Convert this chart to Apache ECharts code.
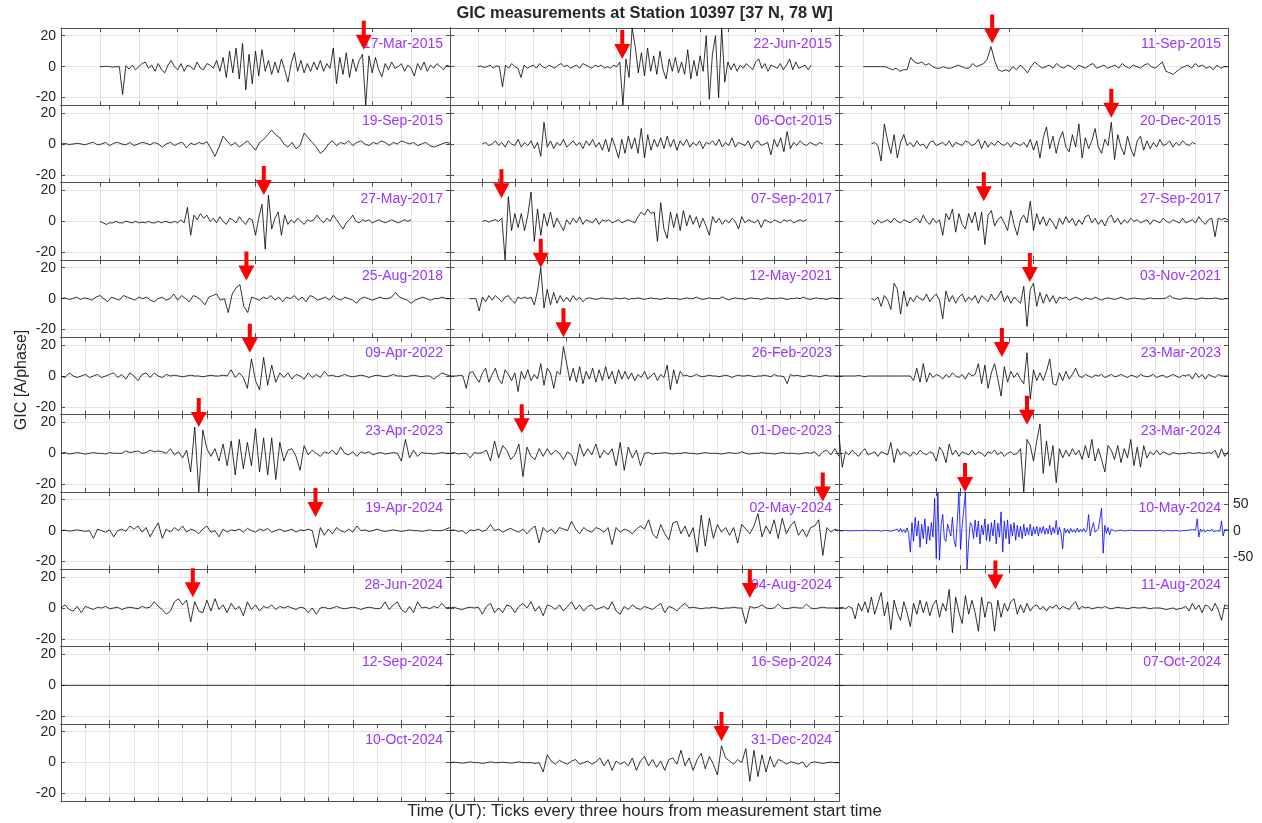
<!DOCTYPE html>
<html><head><meta charset="utf-8">
<script src="https://cdn.jsdelivr.net/npm/echarts@6/dist/echarts.min.js"></script>
<style>html,body{margin:0;padding:0;background:#fff}#chart{width:1262px;height:823px}</style>
</head><body><div id="chart"></div><script>
// ---------------- DATA ----------------
const figureTitle = 'GIC measurements at Station 10397 [37 N, 78 W]';
const yAxisTitle = 'GIC [A/phase]';
const xAxisTitle = 'Time (UT): Ticks every three hours from measurement start time';
const yTickValues = [-20, 0, 20];
const yTickValuesWide = [-50, 0, 50];
const tickStepHours = 3;

const panelDates = ['17-Mar-2015','22-Jun-2015','11-Sep-2015','19-Sep-2015','06-Oct-2015','20-Dec-2015','27-May-2017','07-Sep-2017','27-Sep-2017','25-Aug-2018','12-May-2021','03-Nov-2021','09-Apr-2022','26-Feb-2023','23-Mar-2023','23-Apr-2023','01-Dec-2023','23-Mar-2024','19-Apr-2024','02-May-2024','10-May-2024','28-Jun-2024','04-Aug-2024','11-Aug-2024','12-Sep-2024','16-Sep-2024','07-Oct-2024','10-Oct-2024','31-Dec-2024'];
const axisStartHours = [-3,-3,-1,0,-6,-3,-3,-3,-3,-3,-3,-3,0,-3,0,0,0,0,0,0,0,0,0,0,0,0,0,0,0];
const axisEndHours   = [27,39,15,24,66,33,27,33,33,27,33,33,48,57,48,48,48,48,24,48,48,24,48,48,24,48,48,48,48];
const yLimits        = [25,25,25,25,25,25,25,25,25,25,25,25,25,25,25,25,25,25,25,25,72,25,25,25,25,25,25,25,25];
const sampleStartHours = [0,0,0,0,0,0,0,0,0,-3,-1.2,0,0,-3,0,0,0,0,0,0,0,0,0,0,0,0,0,0,0];
const sampleStepHours  = [0.25,1/3,0.15,0.25,0.6,0.3,0.25,0.3,0.3,0.3,0.3,0.3,0.5,0.5,0.4,0.5,0.5,0.4,0.25,0.5,0.2,0.25,0.5,0.4,6,12,12,12,0.5];
const arrowHours     = [20.35,15.6,5.3,null,null,22.2,12.64,1.76,10.4,11.3,5.4,14.66,23.3,14.5,20.1,17,8.85,23.2,15.7,46,15.55,8.13,37,19.3,null,null,null,null,33.5];
const arrowTipValues = [11,5,15,null,null,17,17,15,13,11.7,20,10.8,15,25,12.3,17,13,18.4,8.8,18.8,72,7,6.5,12,null,null,null,null,14];

const gic_17Mar2015 = [0,0,0.3,0,-0.3,0,0,-18,0.5,-1.5,1,-2,0,2,3,-1,1,-3,2,-2,-4,1,4,0,-2,2,-3,1,0,-2,3,-1,-2,2,1,-1,4,-3,6,-7,10,-4,12,-8,15,-15,8,-11,10,-6,11,-3,4,-5,3,-4,5,-2,-10,2,9,-3,4,-4,2,-3,3,-2,4,-3,2,-1,12,-11,6,-5,9,-7,5,-3,4,8,-25,7,-4,6,-2,-6.5,2,-2,3,-1,0,2,-3,1,-1,-6,2,-2,3,-3,1,-1,2,0,-2,1,0];
const gic_22Jun2015 = [0,0.5,-0.5,0,1,-1,0.5,0,-13,1,-1,2,0,-1,-7,1,-1,0,1,-1,2,0,-1,1,0,-1,1,2,0,1,-1,0,1,-1,2,1,0,-1,1,0,1,-1,0,-1,1,0,3,-25,5,-7,25,13,-4,9,-6,12,-3,7,-5,10,-2,-8,5,-3,6,-4,3,-5,11,-8,4,-6,7,-3,20,-21,8,20,-20,25,-10,3,-2,2,-3,1,-1,2,0,-2,3,5,-1,2,-3,1,0,-1,2,-2,1,5,-2,3,-1,0,1,-2,1];
const gic_11Sep2015 = [0,0,0,0,0,0,0,-1,-2,-1,-3,-2,-2,6,3,2,3,1,2,0,-1,-1,0,-1,-1,0,1,0,-1,-1,2,0,1,2,5,13,4,-2,-3,-2,-3,0,-2,1,-1,-4,0,3,1,-1,0,1,-1,2,0,-1,1,0,-2,1,0,-1,1,2,-1,0,1,-1,0,1,-1,2,0,-1,1,0,-1,1,2,0,-1,1,3,-3,-4,-5,-3,-1,0,1,-1,2,0,1,-1,0,-2,1,-1,0,0];
const gic_19Sep2015 = [0,0.3,-0.3,0,0.5,0,-0.5,0.5,1,-0.5,0,1,-1,0.5,1,0,-0.5,1,-1,0,1,0.5,-0.5,1,0,-2,0,1,-1,0.5,1,-2.5,0.5,-0.5,1,0,1.5,-3,-8,-2,5,2,-1,1,-2,0,2,-1,-4,1,3,6,9,6,4,0,-2,1,-3,-1,7,4,1,-2,-6,-4,0,2,-1,1,0,2,-1,1,2,0,-1,1,0,2,1,-1,1,0,2,1,0,1,-1,0,1,-1,-2,-1,0,1,0.5];
const gic_06Oct2015 = [0,1,-1,0,2,-1,1,-2,2,0,-1,3,-2,1,-1,2,-3,1,-8,14,-2,2,-3,1,-1,3,-2,0,2,-1,1,-3,2,-1,3,-2,1,-4,3,-5,4,-2,-9,3,-6,5,-3,4,-6,10,-9,6,-4,3,-2,4,-3,5,-2,3,-4,2,-1,3,-2,1,-1,2,-3,1,0,2,-1,3,-2,1,-1,4,-2,1,0,-1,2,-3,1,2,-1,0,1,-7,3,-2,4,-5,8,-3,1,-1,2,0,-1,1,0,-1,1,0];
const gic_20Dec2015 = [0,1,-1,-11,13,2,-6,6,-9,1,6,-1,1,-2,2,-1,0,-3,1,2,-1,0,1,-1,2,-2,1,0,-1,2,1,-1,0,3,-3,2,-2,1,-1,2,0,-1,1,-2,1,0,-1,1,-2,3,-4,2,-9,4,11,-3,5,-6,3,8,-2,-5,6,-2,13,-9,4,-3,2,10,-2,-6,3,-1,14,-10,6,-2,-7,5,-3,-8,2,5,-4,2,-3,1,-2,3,-1,0,2,-2,1,-1,2,0,-1,1,0];
const gic_27May2017 = [0,-1,-2,-1,-1,0,-1,-1,0,-0.5,-1,0,-1,-0.5,-1,0,-1,-1,0,-1,0,-0.5,-1,0,-1,1,-1,9,-9,4,1,5,2,4,0,2,-1,3,0,-2,2,1,-1,3,0,-2,2,1,-9,2,11,-18,17,-5,2,6,-9,4,-2,1,-1,2,0,-2,1,0,1,4,1,-1,2,0,4,1,-2,-5,-1,1,4,0,-1,1,0,1,-1,0,1,0,-1,0,1,0,-1,0,1,0,1];
const gic_07Sep2017 = [0,0.5,-0.5,0.5,1,0,2,-25,16,-6,5,-4,5,-6,4,19,-13,8,-9,5,-3,6,-4,2,-2,-6,1,-2,2,-1,3,-2,1,0,-1,2,-2,1,0,1,-1,0,1,-1,0,1,0,-1,3,6,4,8,5,6,-13,12,-5,-11,6,-4,5,-6,7,-3,4,-2,3,-4,2,-3,-9,3,-1,2,-2,1,-1,2,0,-5,3,-1,1,0,-1,1,-4,1,0,-1,1,0,-1,1,0,1,-1,0,1,0,1];
const gic_27Sep2017 = [0,-2,1,-1,0,1,-1,2,0,-1,1,0,-1,1,2,-1,4,0,-2,2,-1,1,-9,5,1,8,-7,5,-2,-5,5,-1,6,-6,6,-15,4,7,-3,1,3,-1,-6,7,-2,-9,1,4,-1,13,-6,5,-2,3,-3,2,-1,-5,2,-2,3,-1,2,-3,1,-2,3,4,-1,2,-2,1,-3,2,4,-1,2,-2,1,-1,2,0,1,-1,0,1,-2,1,0,-1,2,0,-1,1,0,-1,2,-1,0,1,-1,3,0,-2,1,2,-10,2,1,2,1];
const gic_25Aug2018 = [0,0.5,-0.5,0,1,-0.5,0.5,0,-1,1,2,0,-2,1,0,-1,2,1,0,-1,1,0,1,-1,-2,0,1,-1,0,3,-1,2,0,-2,2,1,-1,-4,1,2,3,-1,0,-9,3,7,9,-5,-9,1,0,-1,1,0,2,-1,1,-2,1,0,2,-1,1,-2,2,1,-1,0,1,-1,2,0,-1,1,0,-1,-3,0,1,0,-1,0,1,0,0,1,4,1,0,-1,-3,-1,0,1,0,-1,0,0,1,0,0];
const gic_12May2021 = [0,0,0,-8,1,-2,2,-1,2,0,-2,1,2,-1,-3,1,0,1,0,1,-4,5,20,-6,6,-4,4,-3,2,-2,1,-2,2,-1,1,-2,0,0.5,0,-0.5,0,0.5,0,0,-0.5,0.5,0,0,0.5,-0.5,0,0,0.5,0,-0.5,0,0.5,0,0,-0.5,0,0.5,0,0,0,-0.5,0,0.5,0,0,1,0,-0.5,0,0.5,0,0,0,1.2,0,-0.8,0,0.5,0,0,-0.5,0,0.5,0,0,-0.5,0,0.5,0,0,0,0.5,0,-0.5,0,0,0.5,0,1,0,-0.5,0,0.5,0,0,-0.5,0,0.5,0,0];
const gic_03Nov2021 = [0,-1,1,-5,2,-1,-7,10,6,-10,5,-5,1,-2,2,0,-1,3,-2,1,3,-1,-13,5,-2,2,-3,1,3,-2,1,-1,2,-3,2,0,-2,3,-1,1,5,-2,2,-3,1,-1,-3,8,-18,6,10,-5,4,-3,3,-2,2,-3,1,0,1,-1,0,1,0,-1,0.5,0,-0.5,1,0,-1,0,0.5,0,-0.5,0,1,0,-0.5,0,0.5,0,0,-0.5,0,0.5,0,0,0,0,0.5,2,0.5,0,-0.5,0,0.5,0,0,-0.5,0,0.5,0,0,0,0.5,0,-0.5,0,0];
const gic_09Apr2022 = [0,-1,2,0,-1,0,1,-1,0,1,-1,0,1,2,-1,1,-2,2,0,-3,1,2,-1,2,0,-1,1,0,0.5,0,-0.5,0,0.5,0,0,-0.5,0,0.5,0,0,0.5,0,4,-1,2,-1,-8,11,-3,-9,12,-6,7,-4,2,-1,2,-2,1,0,-2,2,-1,1,-1,3,0,0.5,-0.5,0,1,0,-0.5,0,0.5,0,-1,0,0.5,0,-0.5,0,1,0,0,-0.5,0,0.5,0,-0.5,0,0,-2,0,2,1,0];
const gic_26Feb2023 = [0,0,0,0.5,0,-8,2,3,-1,-4,2,5,-4,1,5,-2,-5,4,1,-3,2,-10,3,-2,4,-3,1,-2,8,-6,5,2,-8,3,1,19,8,-3,5,-4,6,-5,3,-2,5,-4,4,-3,6,-2,3,-5,4,-2,3,-2,2,-3,1,-1,3,-2,0,2,-3,1,-1,7,-9,4,-5,3,0,0.5,-0.5,0,1,0,-0.5,0,0.5,0,0,-0.5,0,0.5,0,-1,0,0.5,0,0,0.5,0,-0.5,0,0,0.5,0,-0.5,1,0,0,-0.5,-5,1,0,0.5,0,-0.5,0,0.5,0,0,-0.5,0,0.5,0,0,0,0];
const gic_23Mar2023 = [0,0,0,0,0,0,0.3,0,-0.5,0,0,0,0,0,0,0,0,0,0,0,0,0,0,-3,5,-4,8,-4,2,-1,1,0,-2,1,-1,2,0,-1,1,-2,2,0,1,8,-5,7,-8,2,8,-2,-13,6,-4,3,-1,2,-2,-5,15,-15,4,-3,2,-3,3,11,-5,-6,2,-3,3,-2,1,5,0,-1,1,0,-1,0.5,0,1,-1,0,1,-0.5,0,1,0,-1,0.5,0,-1,1,0,-0.5,0,1,-1,0,0.5,-1,0,1,0,-1,0.5,0,1,-2,2,-1,1,-2,1,0,-1,1,0,0,0];
const gic_23Apr2023 = [0,0.5,-0.5,0,0.5,0,-0.5,0,0.5,0,0,-0.5,0.5,0,0,0,1.5,0.5,1,1.5,0,0.5,2,1,1.5,1,0,3,-1,1,-3,2,-12,17,-25,15,3,-2,3,-5,6,-8,8,-14,9,-10,7,-8,16,-12,10,-14,10,-17,7,-5,2,3,-2,-11,5,-1,2,0,-2,1,0,2,-1,4,0,-1,1,-2,1,0,1,-1,0,0.5,-0.5,0,0.5,0,-5,9,-3,2,-2,0.5,0,0,-0.5,0,0.5,0,0];
const gic_01Dec2023 = [0,0.5,-0.5,0,0,-3,0.5,0,0.5,2,-5,8,-3,5,2,-4,-1,6,-15,4,-2,-4,3,-2,3,-1,2,0,-4,1,-1,-8,6,-2,3,-1,6,-3,2,-1,3,-8,7,-11,4,-3,2,-8,0,0.5,-0.5,0,0,0.5,0,-0.5,0,0,0.5,0,0,-0.5,0,0.5,0,0,0,-0.5,0,0.5,0,0,1,0,-0.5,0,0,0.5,0,0,-0.5,0,0.5,0,0,0,-0.5,0,0.5,0,1,-2,1,2,-1,3,-2];
const gic_23Mar2024 = [12,-9,1,-1,2,0,-2,1,3,-1,0,1,-2,1,0,-1,7,-6,3,-1,1,0,-2,1,-1,2,0,-1,1,0,-5,4,1,-6,6,-1,2,-2,1,0,-1,2,-1,1,0,-2,1,0,2,-1,1,-2,0,1,-1,0,3,-25,9,5,-5,8,19,-13,8,-8,5,-19,3,-3,2,-2,3,-1,2,-4,5,-3,9,-5,3,-4,-12,5,2,-4,5,-6,3,-3,9,-8,4,-9,5,-3,1,-1,2,-1,1,0,-1,0.5,0,-0.5,0,0,0.5,0,0,0.5,0,0,0.5,0,2,-3,3,-2,1];
const gic_19Apr2024 = [0,0.3,-0.3,0,0.5,0,-0.5,0,-5,1,0,-1,0.5,-4,0,1,-0.5,3,1,3,-1,2,-4,1,5,-5,1,-1,2,0,3,-1,1,0,-2,1,3,-1,0,-4,1,-1,0.5,0,1,-1,1.5,0,-1,1,0,1.5,-1,0,1,-0.5,0,1,-1,0.5,0,1,0,-11,2,-3,1,-2,2,0,-1,1,-1,3,0,0.5,-0.5,0,1,0,-0.5,0,0.5,0,-0.5,0,0.5,0,0,-0.5,0,0.5,0,0,0,1,2];
const gic_02May2024 = [0,0.5,-0.5,0,-2,0.5,0,1,-0.5,0.5,4,0,1,-1,0.5,1.5,0,-1,1,-2,1,3,-8,2,-1,1,-2,2,1,0,6,1,-2,2,0,-1,2,1,-1,2,-9,2,-1,1,0,-2,1,3,1,7,-2,-5,4,-2,-6,5,6,-2,3,-4,2,-14,10,-10,8,-5,4,-1,2,-3,2,-8,4,1,-2,3,11,-4,3,-2,7,-5,8,-2,3,6,-3,1,-4,2,3,7,-16,2,-1,1,0];
const gic_10May2024 = [0,0.5,-0.5,0,0.5,0,-0.5,0,0,0.5,0,-0.5,0,0.5,0,0,1,-1,0,0.5,0,-0.5,0,0,0.5,0,-1,0,0.5,0,0,1,-1,0,0.5,2,3,-2,4,-3,2,-4,5,-6,-40,15,-20,25,-10,18,-31,12,-15,22,-25,8,-18,15,-12,60,-52,72,-55,10,30,-15,-20,12,15,-10,25,-18,-30,20,72,-35,10,40,72,-72,-20,15,10,-15,20,-12,18,-25,10,-8,22,-18,12,-20,15,-10,20,-25,14,-12,35,-40,18,-15,20,-25,12,-10,15,-18,10,-12,8,-15,12,-10,6,-8,12,-10,7,-6,8,-10,6,-5,8,-7,5,-6,10,-8,6,-5,19,-8,6,-5,-34,5,-4,3,-5,4,-3,2,-4,5,-3,3,-2,4,-3,2,30,-10,5,15,-3,-5,3,2,42,-42,10,-5,6,-8,3,1,-1,2,0,-1,1,0,-0.5,0.5,0,0,1,-1,0,0.5,0,-0.5,0,1,0,-1,0,0.5,0,0,0.5,0,-0.5,0,1,0,-1,0,0.5,0,0,1,-0.5,0,0.5,0,-1,1,0,0.5,0,-0.5,1,0,2,-1,1,22,-12,3,-2,2,-3,1,2,-1,3,-2,1,0,2,-1,18,-10,2,-1,1];
const gic_28Jun2024 = [0,2,-1,-2,1,-3,1,0,-1,0.5,0,1,-0.5,0,0.5,-1,0,0.5,0,-0.5,1,0,0.5,4,1,-1,-4,-2,4,6,2,5,-9,4,-2,-3,5,-2,6,-1,2,-3,3,-1,1,-5,4,-1,2,-2,1,0,2,-1,1,0,1,0,-1,0.5,0,-3,0,-4,0,0.5,-0.5,0,1,0,-0.5,0,0.5,0,-1,0,0.5,0,-0.5,0,4,-1,2,4,-1,-3,1,-3,4,0,0.5,-0.5,1,0,3,0,0.5];
const gic_04Aug2024 = [0,0.5,-0.5,-1,0,0.5,0,0.5,-4,1,3,-3,0,-3,2,1,-3,1,3,0,4,-2,1,-5,2,1,-1,2,-2,1,4,-1,2,-2,1,2,-1,0,1,-1,4,-2,-4,1,-1,2,0,-1,1,0,-1,1,3,-3,1,0,-2,1,3,0,0.5,0,-0.5,0,0,0.5,0,-0.5,0,0,0.5,0,0,-10,1,0,0.5,2,0,-0.5,0,2.5,0,-0.5,0,0.5,0,0,2.5,0,-0.5,0,0.5,0,0,0,0];
const gic_11Aug2024 = [0,0.5,-0.5,1,0,-7,3,-2,4,-3,7,-4,3,10,-5,4,-14,5,-3,-8,4,-3,-12,3,-4,5,-3,4,-5,2,5,-6,3,-2,12,-16,7,-3,-10,8,-4,5,-3,-15,7,-6,4,3,-15,5,-6,3,-2,4,6,-4,2,-3,3,-2,1,2,-1,1,-2,1,0,2,-1,1,0,-1,2,4,-1,1,0,0.5,-0.5,0,0.5,0,1,0,-0.5,0,0.5,0,0,-0.5,0,0.5,0,0,0.5,0,-0.5,0,0,0,-0.5,-1,-0.5,0,-1,-0.5,0,1,-2,3,-1,2,-3,2,1,-2,3,-1,-8,2,1];
const gic_12Sep2024 = [0,0,0,0,0];
const gic_16Sep2024 = [0,0,0,0,0];
const gic_07Oct2024 = [0,0,0,0,0];
const gic_10Oct2024 = [];
const gic_31Dec2024 = [0,0.3,0,-0.3,0,0.5,0,0,-0.5,0,0.5,0,0,0.3,0,-0.3,0,0.5,0,0,0,-0.5,0,-6,5,1,-1,1.5,0,-1,1,2,-1,0,1,-1,0.5,3,-2,2,-5,1,-1,0.5,-2,3,-5,1,4,-2,2,-3,1,-5,2,3,-1,8,-2,3,-5,2,6,-4,4,-1,-8,11,3,1,-1,2,0,9,-12,8,-9,5,-6,4,-3,2,1,-1,0.5,0,-1,0.5,-3,0,0.5,0,-0.5,0,0.3,0,0];

const panelValues = [gic_17Mar2015,gic_22Jun2015,gic_11Sep2015,gic_19Sep2015,gic_06Oct2015,gic_20Dec2015,gic_27May2017,gic_07Sep2017,gic_27Sep2017,gic_25Aug2018,gic_12May2021,gic_03Nov2021,gic_09Apr2022,gic_26Feb2023,gic_23Mar2023,gic_23Apr2023,gic_01Dec2023,gic_23Mar2024,gic_19Apr2024,gic_02May2024,gic_10May2024,gic_28Jun2024,gic_04Aug2024,gic_11Aug2024,gic_12Sep2024,gic_16Sep2024,gic_07Oct2024,gic_10Oct2024,gic_31Dec2024];
const highlightedPanel = '10-May-2024';

// ---------------- LAYOUT / STYLE ----------------
const FONT = '"Liberation Sans", Arial, Helvetica, sans-serif';
const FRAME = '#505050', GRIDC = '#e4e4e4', TXT = '#262626', DATEC = '#9933ff';
const L0 = 61, PW = 389, T0 = 28, PH = 77.33, W = 1262;
const ARROW = 'path://M6,0L10,0L10,14L16,14L8,29L0,14L6,14Z';

const chart = echarts.init(document.getElementById('chart'), null, {renderer: 'canvas'});
const grids = [], xAxes = [], yAxes = [], series = [];
const titles = [{text: figureTitle, left: 644.5, top: 5, textAlign: 'center', padding: 0,
  textStyle: {fontFamily: FONT, fontSize: 16.4, fontWeight: 'bold', color: TXT}}];

panelDates.forEach((date, k) => {
  const row = Math.floor(k / 3), col = k % 3;
  const left = L0 + col * PW, top = T0 + row * PH;
  const blue = date === highlightedPanel;
  grids.push({left: left, top: top, width: PW, height: PH, containLabel: false});
  const xTicks = [];
  for (let t = 0; t <= axisEndHours[k] + 1e-9; t += tickStepHours) xTicks.push(t);
  const yTicks = blue ? yTickValuesWide : yTickValues;
  const lim = yLimits[k];
  const xBase = {type: 'value', gridIndex: k, min: axisStartHours[k], max: axisEndHours[k],
    axisLine: {show: true, onZero: false, lineStyle: {color: FRAME, width: 1}},
    axisTick: {show: true, inside: true, length: 4, customValues: xTicks, lineStyle: {color: FRAME, width: 1}},
    axisLabel: {show: false}};
  xAxes.push(Object.assign({}, xBase, {position: 'bottom', splitLine: {show: true, lineStyle: {color: GRIDC, width: 1}}}));
  xAxes.push(Object.assign({}, xBase, {position: 'top', splitLine: {show: false}}));
  const yBase = {type: 'value', gridIndex: k, min: -lim, max: lim,
    axisLine: {show: true, onZero: false, lineStyle: {color: FRAME, width: 1}},
    axisTick: {show: true, inside: true, length: 4, customValues: yTicks, lineStyle: {color: FRAME, width: 1}}};
  yAxes.push(Object.assign({}, yBase, {position: 'left',
    splitLine: {show: true, lineStyle: {color: GRIDC, width: 1}},
    axisLabel: {show: col === 0 && !blue, customValues: yTicks, margin: 5, fontSize: 14, color: TXT, fontFamily: FONT}}));
  yAxes.push(Object.assign({}, yBase, {position: 'right', splitLine: {show: false},
    axisLabel: {show: blue, customValues: yTicks, margin: 5, fontSize: 14, color: TXT, fontFamily: FONT}}));

  const vals = panelValues[k];
  const t0 = sampleStartHours[k], dt = sampleStepHours[k];
  if (vals.length) {
    series.push({type: 'line', xAxisIndex: 2 * k, yAxisIndex: 2 * k, showSymbol: false, symbol: 'none',
      silent: true, z: 3, lineStyle: {color: blue ? '#0000ff' : '#000000', width: 0.8},
      data: vals.map((v, i) => [t0 + i * dt, v])});
  }
  if (arrowHours[k] !== null) {
    series.push({type: 'scatter', xAxisIndex: 2 * k, yAxisIndex: 2 * k, clip: false, silent: true, z: 20,
      symbol: ARROW, symbolSize: [16, 29], symbolOffset: [0, '-50%'],
      itemStyle: {color: '#ff0000', opacity: 1}, data: [[arrowHours[k], arrowTipValues[k]]]});
  }
  titles.push({text: date, right: W - (left + PW - 7), top: top + 9, padding: 0,
    textStyle: {color: DATEC, fontSize: 14, fontWeight: 'normal', fontFamily: FONT}});
});

chart.setOption({
  animation: false,
  backgroundColor: '#ffffff',
  title: titles,
  grid: grids,
  xAxis: xAxes,
  yAxis: yAxes,
  series: series,
  graphic: [
    {type: 'text', x: 22, y: 380, rotation: Math.PI / 2,
     style: {text: yAxisTitle, fontSize: 16, fontFamily: FONT, fill: TXT, align: 'center', verticalAlign: 'middle'}},
    {type: 'text', x: 644.5, y: 811,
     style: {text: xAxisTitle, fontSize: 16.7, fontFamily: FONT, fill: TXT, align: 'center', verticalAlign: 'middle'}}
  ]
});
</script></body></html>
